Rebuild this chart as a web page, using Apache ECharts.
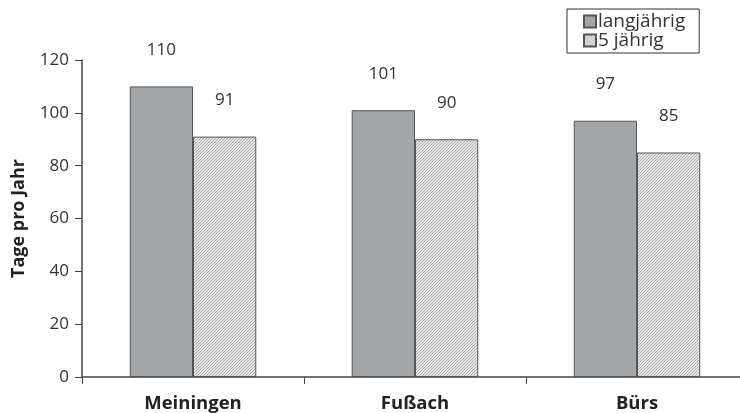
<!DOCTYPE html>
<html><head><meta charset="utf-8">
<script src="https://cdn.jsdelivr.net/npm/echarts@6/dist/echarts.min.js"></script>
<style>html,body{margin:0;padding:0;background:#fff;overflow:hidden;width:740px;height:413px}#c{width:748px;height:413px}</style>
</head><body><div id="c"></div>
<script>
const categories = ['Meiningen', 'Fußach', 'Bürs'];
const langjaehrig = [110, 101, 97];
const fuenfjaehrig = [91, 90, 85];
const seriesNames = ['langjährig', '5 jährig'];
const yTicks = { min: 0, max: 120, interval: 20 };

function hatch() {
  const c = document.createElement('canvas');
  c.width = 3; c.height = 3;
  const g = c.getContext('2d');
  g.fillStyle = '#ffffff'; g.fillRect(0, 0, 3, 3);
  g.strokeStyle = '#a8a8a8'; g.lineWidth = 1.1;
  g.beginPath();
  g.moveTo(-1, 4); g.lineTo(4, -1);
  g.moveTo(-1, 1); g.lineTo(1, -1);
  g.moveTo(2, 4); g.lineTo(4, 2);
  g.stroke();
  return c;
}
const font = '"Open Sans", "Noto Sans", sans-serif';
const chart = echarts.init(document.getElementById('c'));
const labelCfg = { show: true, position: 'top', distance: 28, fontSize: 17, color: '#333', fontFamily: font };
chart.setOption({
  animation: false,
  textStyle: { fontFamily: font },
  grid: { left: 82, right: 0, top: 60, bottom: 36, containLabel: false, outerBoundsMode: 'none' },
  legend: {
    orient: 'vertical', left: 567, top: 9, itemWidth: 12, itemHeight: 12, itemGap: 0, icon: 'rect',
    padding: [3, 14, 3, 16], borderColor: '#333', borderWidth: 1, selectedMode: false,
    textStyle: { fontSize: 19, color: '#333', fontFamily: font, padding: [0, 0, 0, -3] },
    data: seriesNames
  },
  xAxis: {
    type: 'category', data: categories,
    axisLine: { lineStyle: { color: '#444', width: 1.5 } },
    axisTick: { show: true, length: 7, lineStyle: { color: '#444' } },
    axisLabel: { fontSize: 18.5, fontWeight: 'bold', color: '#222', margin: 17, fontFamily: font }
  },
  yAxis: {
    type: 'value', min: yTicks.min, max: yTicks.max, interval: yTicks.interval,
    name: 'Tage pro Jahr', nameLocation: 'middle', nameGap: 54,
    nameTextStyle: { fontSize: 18, fontWeight: 'bold', color: '#222', fontFamily: font },
    axisLine: { show: true, lineStyle: { color: '#444', width: 1.5 } },
    axisTick: { show: true, length: 7, lineStyle: { color: '#444' } },
    splitLine: { show: false },
    axisLabel: { fontSize: 17, color: '#333', margin: 13, fontFamily: font }
  },
  series: [
    { name: seriesNames[0], type: 'bar', data: langjaehrig, barGap: '0%', barCategoryGap: '43%',
      itemStyle: { color: '#a2a6a9', borderColor: '#555', borderWidth: 1 }, label: labelCfg },
    { name: seriesNames[1], type: 'bar', data: fuenfjaehrig,
      itemStyle: { color: { image: hatch(), repeat: 'repeat' }, borderColor: '#555', borderWidth: 1 }, label: labelCfg }
  ]
});
</script></body></html>
